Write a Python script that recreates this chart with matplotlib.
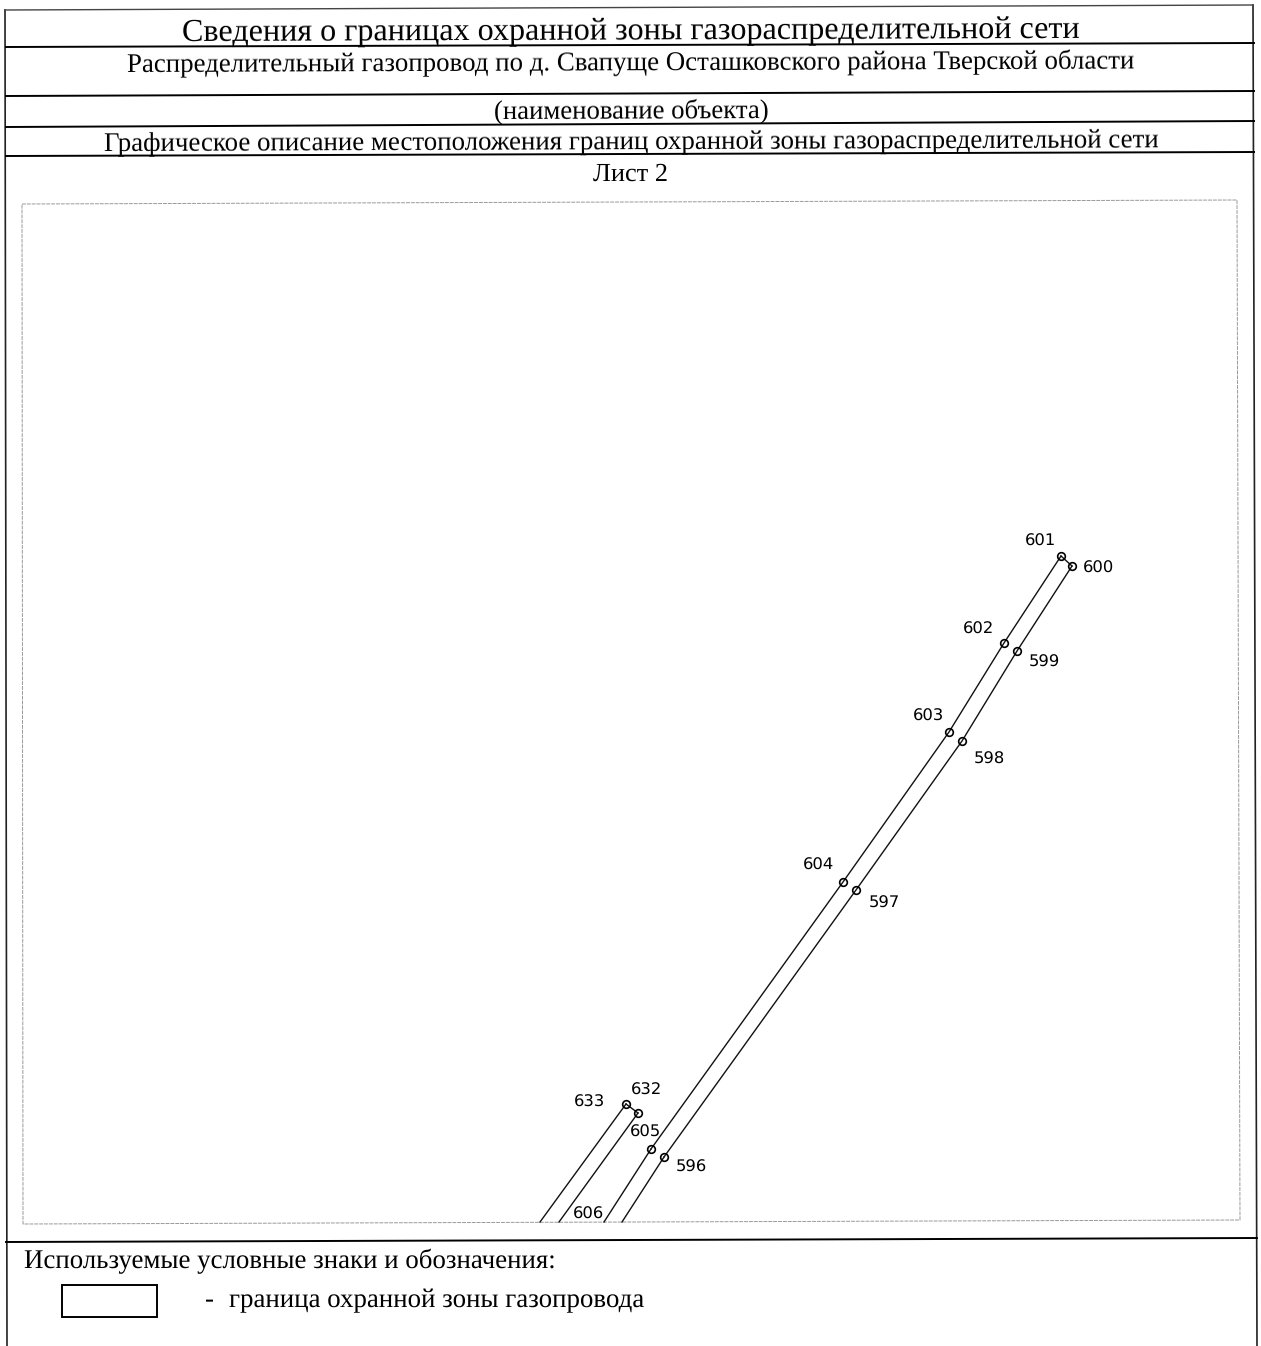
import matplotlib
matplotlib.use("Agg")
import matplotlib.pyplot as plt

plt.rcParams["text.hinting"] = "no_hinting"

# boundary points (image pixels)
point_ids = ["601", "600", "602", "599", "603", "598", "604", "597", "605", "596", "633", "632"]
point_x = [1061, 1072, 1004, 1017, 949, 962, 843, 856, 651, 664, 626, 638]
point_y = [556, 566, 643, 651, 732, 741, 882, 890, 1149, 1157, 1104, 1113]

# where the label of each point sits
label_x = [1040, 1098, 978, 1044, 928, 989, 818, 884, 645, 691, 589, 646]
label_y = [541, 568, 629, 662, 716, 759, 865, 903, 1132, 1167, 1102, 1090]

# the zone boundary is cut by the frame at the bottom of the sheet
north_line = ["633", "632"]
east_line = ["601", "600"]
upper_line = ["601", "602", "603", "604", "605"]
lower_line = ["600", "599", "598", "597", "596"]
cut_ends = {"633": 540, "632": 559, "605": 604, "596": 622}
cut_y = 1222

title = "Сведения о границах охранной зоны газораспределительной сети"
object_name = "Распределительный газопровод по д. Свапуще Осташковского района Тверской области"
object_caption = "(наименование объекта)"
description = "Графическое описание местоположения границ охранной зоны газораспределительной сети"
sheet = "Лист 2"
legend_title = "Используемые условные знаки и обозначения:"
legend_dash = "-"
legend_text = "граница охранной зоны газопровода"

fig = plt.figure(figsize=(12.61, 13.46), dpi=100)
ax = fig.add_axes([0, 0, 1, 1])
ax.set_xlim(0, 1261)
ax.set_ylim(1346, 0)
ax.axis("off")

# outer table
ax.plot([5, 7], [10, 1346], color="#222222", lw=1.2)
ax.plot([1253, 1257], [5, 1346], color="#222222", lw=1.2)
ax.plot([5, 1253], [10, 5], color="#444444", lw=1.0)
for y_left, y_right, x_right in [(47, 43, 1254), (96, 91, 1254), (127, 121, 1254), (156, 152, 1254), (1242, 1238, 1257)]:
    ax.plot([6, x_right], [y_left, y_right], color="black", lw=1.4)

# inner drawing frame, faint in the scan
ax.plot([22, 1237, 1240, 23, 22], [204, 200, 1220, 1224, 204], color="#999999", lw=0.7, ls=(0, (4, 1)))


def xy(name):
    i = point_ids.index(name)
    return point_x[i], point_y[i]


for line in [north_line, east_line, upper_line, lower_line]:
    pts = [xy(n) for n in line]
    ax.plot([p[0] for p in pts], [p[1] for p in pts], color="#111111", lw=1.0)
for name, end_x in cut_ends.items():
    px, py = xy(name)
    ax.plot([px, end_x], [py, cut_y], color="#111111", lw=1.0)

ax.plot(point_x, point_y, "o", ms=5.5, mfc="none", mec="black", mew=1.2, ls="none")

for i, name in enumerate(point_ids):
    ax.text(label_x[i], label_y[i], name, fontsize=11.8, ha="center", va="center", family="DejaVu Sans")
ax.text(588, 1214, "606", fontsize=11.8, ha="center", va="center", family="DejaVu Sans")

serif = "Liberation Serif"
ax.text(631, 32, title, fontsize=23.1, ha="center", va="center", family=serif, rotation=0.2)
ax.text(631, 64, object_name, fontsize=19.4, ha="center", va="center", family=serif, rotation=0.2)
ax.text(631, 112, object_caption, fontsize=19.3, ha="center", va="center", family=serif, rotation=0.2)
ax.text(631, 143, description, fontsize=19.4, ha="center", va="center", family=serif, rotation=0.2)
ax.text(631, 174, sheet, fontsize=19, ha="center", va="center", family=serif)
ax.text(24, 1261, legend_title, fontsize=19.4, ha="left", va="center", family=serif)
ax.text(205, 1301, legend_dash, fontsize=19.4, ha="left", va="center", family=serif)
ax.text(229, 1301, legend_text, fontsize=19.4, ha="left", va="center", family=serif)

ax.add_patch(plt.Rectangle((62, 1285), 95, 32, fill=False, ec="black", lw=1.4))

fig.savefig("out.png", dpi=100)
